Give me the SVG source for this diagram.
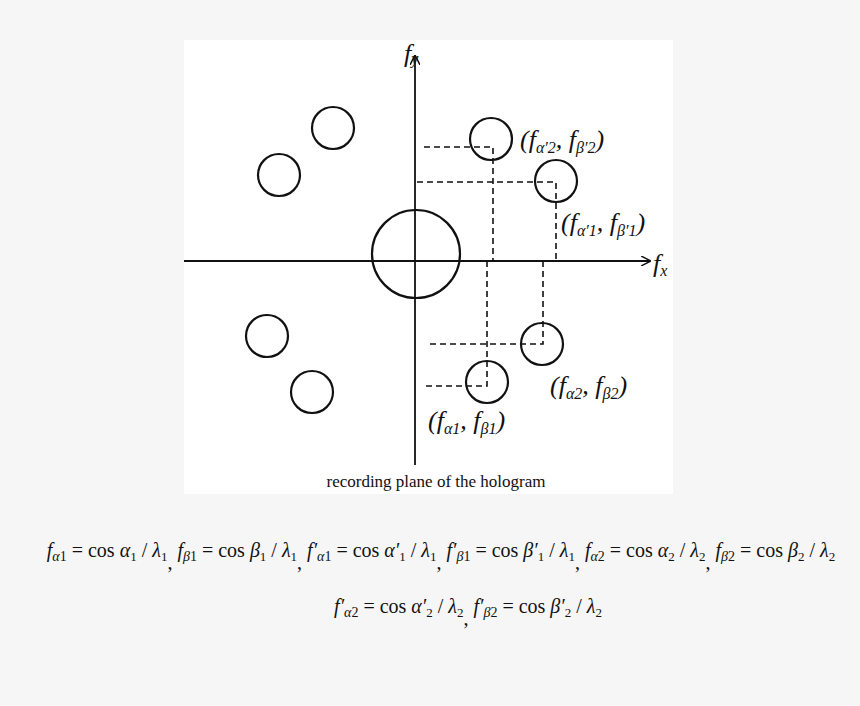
<svg xmlns="http://www.w3.org/2000/svg" width="860" height="706" viewBox="0 0 860 706">
<style>
.c{fill:none;stroke:#111;stroke-width:2.2}
.a{stroke:#111;stroke-width:1.8;fill:none}
.d{stroke:#111;stroke-width:1.6;stroke-dasharray:6,4;fill:none}
.l{font-family:"Liberation Serif",serif;font-style:italic;font-size:26px;fill:#111}
.s{font-size:16px}
.f{font-family:"Liberation Serif",serif;font-size:20px;fill:#111}
.i{font-style:italic}
</style>
<defs><marker id="ar" markerWidth="10" markerHeight="10" refX="9" refY="5" orient="auto" markerUnits="userSpaceOnUse"><path d="M0,0 L10,5 L0,10" fill="none" stroke="#111" stroke-width="1.5"/></marker></defs>
<rect width="860" height="706" fill="#f6f6f6"/>
<rect x="184" y="40" width="489" height="454" fill="#fff"/>
<g id="connectors">
<line class="a" x1="415" y1="465" x2="415" y2="56" marker-end="url(#ar)"/>
<line class="a" x1="184" y1="261" x2="650" y2="261" marker-end="url(#ar)"/>
<path class="d" d="M424,147 H493 V261"/>
<path class="d" d="M417,182 H556 V261"/>
<path class="d" d="M543,261 V344 H427"/>
<path class="d" d="M487,261 V386 H424"/>
</g>
<g id="center"><circle class="c" cx="416" cy="254" r="44"/></g>
<g id="p2"><circle class="c" cx="491" cy="139" r="21"/></g>
<g id="p1"><circle class="c" cx="556" cy="181" r="21"/></g>
<g id="q2"><circle class="c" cx="542" cy="344" r="21"/></g>
<g id="q1"><circle class="c" cx="487" cy="382" r="21"/></g>
<g id="l1"><circle class="c" cx="333" cy="128" r="21"/></g>
<g id="l2"><circle class="c" cx="279" cy="175" r="21"/></g>
<g id="l3"><circle class="c" cx="267" cy="336" r="21"/></g>
<g id="l4"><circle class="c" cx="312" cy="392" r="21"/></g>
<g id="labels">
<text class="l" x="404" y="62">f<tspan class="s" dy="2">y</tspan></text>
<text class="l" x="653" y="272">f<tspan class="s" dy="4">x</tspan></text>
<text class="l" x="520" y="148">(f<tspan class="s" dy="5">α′2</tspan><tspan dy="-5">,  f</tspan><tspan class="s" dy="5">β′2</tspan><tspan dy="-5">)</tspan></text>
<text class="l" x="561" y="231">(f<tspan class="s" dy="5">α′1</tspan><tspan dy="-5">,  f</tspan><tspan class="s" dy="5">β′1</tspan><tspan dy="-5">)</tspan></text>
<text class="l" x="550" y="394">(f<tspan class="s" dy="5">α2</tspan><tspan dy="-5">,  f</tspan><tspan class="s" dy="5">β2</tspan><tspan dy="-5">)</tspan></text>
<text class="l" x="428" y="429">(f<tspan class="s" dy="5">α1</tspan><tspan dy="-5">,  f</tspan><tspan class="s" dy="5">β1</tspan><tspan dy="-5">)</tspan></text>
<text x="436" y="487" text-anchor="middle" style="font-family:'Liberation Serif',serif;font-size:17px;fill:#111">recording plane of the hologram</text>
</g>
<g id="formulas">
<text class="f" x="441" y="557" text-anchor="middle"><tspan class="i">f</tspan><tspan class="i" font-size="14" dy="4">α</tspan><tspan font-size="14">1</tspan><tspan dy="-4"> = cos </tspan><tspan class="i">α</tspan><tspan font-size="13" dy="4">1</tspan><tspan dy="-4"> / </tspan><tspan class="i">λ</tspan><tspan font-size="13" dy="4">1</tspan><tspan dy="8">,</tspan><tspan class="i" dy="-12"> f</tspan><tspan class="i" font-size="14" dy="4">β</tspan><tspan font-size="14">1</tspan><tspan dy="-4"> = cos </tspan><tspan class="i">β</tspan><tspan font-size="13" dy="4">1</tspan><tspan dy="-4"> / </tspan><tspan class="i">λ</tspan><tspan font-size="13" dy="4">1</tspan><tspan dy="8">,</tspan><tspan class="i" dy="-12"> f′</tspan><tspan class="i" font-size="14" dy="4">α</tspan><tspan font-size="14">1</tspan><tspan dy="-4"> = cos </tspan><tspan class="i">α′</tspan><tspan font-size="13" dy="4">1</tspan><tspan dy="-4"> / </tspan><tspan class="i">λ</tspan><tspan font-size="13" dy="4">1</tspan><tspan dy="8">,</tspan><tspan class="i" dy="-12"> f′</tspan><tspan class="i" font-size="14" dy="4">β</tspan><tspan font-size="14">1</tspan><tspan dy="-4"> = cos </tspan><tspan class="i">β′</tspan><tspan font-size="13" dy="4">1</tspan><tspan dy="-4"> / </tspan><tspan class="i">λ</tspan><tspan font-size="13" dy="4">1</tspan><tspan dy="8">,</tspan><tspan class="i" dy="-12"> f</tspan><tspan class="i" font-size="14" dy="4">α</tspan><tspan font-size="14">2</tspan><tspan dy="-4"> = cos </tspan><tspan class="i">α</tspan><tspan font-size="13" dy="4">2</tspan><tspan dy="-4"> / </tspan><tspan class="i">λ</tspan><tspan font-size="13" dy="4">2</tspan><tspan dy="8">,</tspan><tspan class="i" dy="-12"> f</tspan><tspan class="i" font-size="14" dy="4">β</tspan><tspan font-size="14">2</tspan><tspan dy="-4"> = cos </tspan><tspan class="i">β</tspan><tspan font-size="13" dy="4">2</tspan><tspan dy="-4"> / </tspan><tspan class="i">λ</tspan><tspan font-size="13" dy="4">2</tspan></text>
<text class="f" x="468" y="613" text-anchor="middle"><tspan class="i">f′</tspan><tspan class="i" font-size="14" dy="4">α</tspan><tspan font-size="14">2</tspan><tspan dy="-4"> = cos </tspan><tspan class="i">α′</tspan><tspan font-size="13" dy="4">2</tspan><tspan dy="-4"> / </tspan><tspan class="i">λ</tspan><tspan font-size="13" dy="4">2</tspan><tspan dy="8">,</tspan><tspan class="i" dy="-12"> f′</tspan><tspan class="i" font-size="14" dy="4">β</tspan><tspan font-size="14">2</tspan><tspan dy="-4"> = cos </tspan><tspan class="i">β′</tspan><tspan font-size="13" dy="4">2</tspan><tspan dy="-4"> / </tspan><tspan class="i">λ</tspan><tspan font-size="13" dy="4">2</tspan></text>
</g>
</svg>
